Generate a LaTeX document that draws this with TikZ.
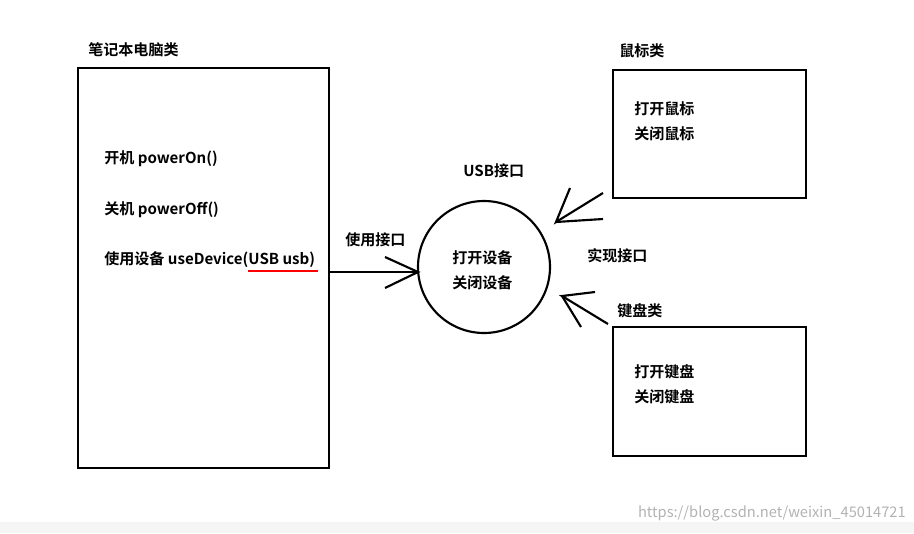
\documentclass[tikz,border=0pt]{standalone}
\usepackage{fontspec}
\setmainfont{Noto Sans CJK SC Bold}
\begin{document}
\begin{tikzpicture}[x=0.75pt,y=-0.75pt,
  box/.style={draw,line width=1.6pt},
  lbl/.style={anchor=west,inner sep=0pt,font=\fontsize{11.3pt}{13pt}\selectfont},
  stroke/.style={line width=1.6pt}]
\useasboundingbox (0,0) rectangle (914,533);
\fill[gray!8] (0,522) rectangle (914,533);
\node[box,minimum width=251*0.75pt,minimum height=400*0.75pt,anchor=north west,inner sep=0pt] (pc) at (77,67) {};
\node[box,minimum width=193*0.75pt,minimum height=128*0.75pt,anchor=north west,inner sep=0pt] (mouse) at (612,69) {};
\node[box,minimum width=193*0.75pt,minimum height=129*0.75pt,anchor=north west,inner sep=0pt] (kb) at (612,326) {};
\node[draw,circle,line width=1.6pt,minimum size=132*0.75pt,inner sep=0pt] (usb) at (484,267) {};
\node[lbl] (t1) at (88,50) {笔记本电脑类};
\node[lbl] (t2) at (104,159) {开机 powerOn()};
\node[lbl] (t3) at (104,210) {关机 powerOff()};
\node[lbl] (t4) at (104,260) {使用设备 useDevice(USB usb)};
\draw[red,line width=1.5pt] (248,271) -- (318,271);
\node[lbl] (t5) at (463,171) {USB接口};
\node[lbl] (t6) at (452,258) {打开设备};
\node[lbl] (t7) at (452,283) {关闭设备};
\node[lbl] (t8) at (345,240) {使用接口};
\node[lbl] (t9) at (587,256) {实现接口};
\node[lbl] (t10) at (619,51) {鼠标类};
\node[lbl] (t11) at (634,109) {打开鼠标};
\node[lbl] (t12) at (634,134) {关闭鼠标};
\node[lbl] (t13) at (617,311) {键盘类};
\node[lbl] (t14) at (634,372) {打开键盘};
\node[lbl] (t15) at (634,397) {关闭键盘};
\node[anchor=east,inner sep=0pt,text=gray!60,font=\fontspec{Noto Sans CJK SC}\fontsize{11pt}{13pt}\selectfont] (wm) at (906,513) {https://blog.csdn.net/weixin\_45014721};
\coordinate (a1) at (418,272);
\draw[stroke] (pc.east |- a1) -- (a1);
\draw[stroke] (385,257) -- (a1) -- (385,288);
\coordinate (a2) at (556,222);
\draw[stroke] (570,188) -- (a2) -- (603,193);
\draw[stroke] (a2) -- (603,219);
\coordinate (a3) at (562,296);
\draw[stroke] (595,292) -- (a3) -- (608,324);
\draw[stroke] (a3) -- (581,327);
\end{tikzpicture}
\end{document}
